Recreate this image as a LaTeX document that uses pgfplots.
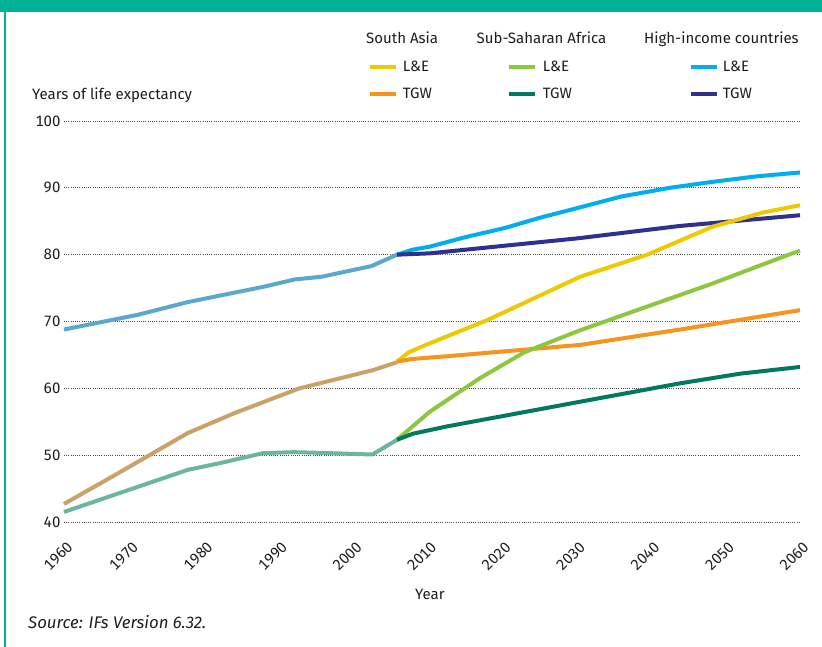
\documentclass[border=0pt]{standalone}
\usepackage{pgfplots}
\pgfplotsset{compat=1.18}
\usepackage{fontspec}
\setmainfont{Fira Sans}
\definecolor{frame}{RGB}{0,178,150}
\definecolor{hihist}{RGB}{92,168,204}
\definecolor{sahist}{RGB}{201,162,106}
\definecolor{ssahist}{RGB}{108,182,160}
\definecolor{sale}{RGB}{238,201,0}
\definecolor{satgw}{RGB}{247,148,29}
\definecolor{ssale}{RGB}{141,198,63}
\definecolor{ssatgw}{RGB}{0,122,94}
\definecolor{hile}{RGB}{0,174,239}
\definecolor{hitgw}{RGB}{46,48,146}
\definecolor{txt}{RGB}{30,30,30}
\begin{document}
\begin{tikzpicture}
\useasboundingbox (0pt,0pt) rectangle (822pt,-647pt);
\fill[white] (0pt,0pt) rectangle (822pt,-647pt);
\fill[frame] (0pt,0pt) rectangle (822pt,-12.3pt);
\fill[frame] (3.5pt,0pt) rectangle (6.3pt,-647pt);
\begin{axis}[
  at={(64pt,-522pt)}, anchor=south west,
  scale only axis, width=736pt, height=401pt,
  xmin=1961.2, xmax=2060, ymin=40, ymax=100,
  axis line style={draw=none},
  major tick length=0pt,
  xtick={1961.2,1970,1980,1990,2000,2010,2020,2030,2040,2050,2060},
  xticklabels={1960,1970,1980,1990,2000,2010,2020,2030,2040,2050,2060},
  ytick={40,50,60,70,80,90,100},
  ymajorgrids,
  grid style={color=black!70, line width=0.7pt, dash pattern=on 0.9pt off 1.3pt},
  /pgf/number format/assume math mode=true,
  tick label style={font=\fontsize{15}{17}\selectfont\addfontfeatures{Numbers=Monospaced}, text=txt},
  xticklabel style={xshift=8.5pt, yshift=-20pt, rotate=45, anchor=east},
  yticklabel style={anchor=east, xshift=0pt},
  clip=false,
  every axis plot/.append style={line width=4pt, line join=round, line cap=butt},
]
% historical
\addplot[hihist] coordinates {(1961.2,68.8) (1971.1,71.0) (1977.8,72.9) (1984,74.3) (1988,75.2) (1992.2,76.3) (1995.8,76.7) (2002.5,78.3) (2005.9,80.0)};
\addplot[sahist] coordinates {(1961.2,42.7) (1968,47.0) (1977.8,53.3) (1984.1,56.3) (1992.8,60.0) (2002.6,62.7) (2005.9,63.9)};
\addplot[ssahist] coordinates {(1961.2,41.5) (1977.8,47.8) (1982.1,48.8) (1987.9,50.3) (1992,50.45) (1995.5,50.35) (2002.6,50.1) (2005.9,52.3)};
% projections
\addplot[hile] coordinates {(2005.9,80.0) (2008,80.75) (2010.3,81.2) (2015,82.6) (2020.4,84.0) (2025,85.5) (2030.2,87.0) (2036,88.7) (2042.5,90.0) (2048.3,90.9) (2054,91.7) (2060,92.3)};
\addplot[hitgw] coordinates {(2005.9,80.0) (2010.3,80.2) (2020,81.3) (2030.2,82.45) (2043.9,84.3) (2060,85.9)};
\addplot[sale] coordinates {(2005.9,64.0) (2007.5,65.4) (2010,66.6) (2018,70.2) (2030.5,76.7) (2039.5,80.0) (2048.3,84.2) (2055,86.3) (2060,87.4)};
\addplot[satgw] coordinates {(2005.9,64.0) (2008,64.4) (2012.6,64.8) (2030.5,66.5) (2043.9,68.8) (2060,71.7)};
\addplot[ssale] coordinates {(2005.9,52.3) (2010.3,56.5) (2017,61.5) (2023,65.4) (2030.5,68.7) (2048.3,75.7) (2058,79.8) (2060,80.6)};
\addplot[ssatgw] coordinates {(2005.9,52.3) (2008,53.2) (2012.6,54.3) (2030.5,58.0) (2043.9,60.75) (2052,62.2) (2060,63.2)};
\end{axis}
\begin{scope}[every node/.style={font=\fontsize{15}{17}\selectfont, text=txt, inner sep=0pt}]
\node[anchor=base west] at (32pt,-100pt) {Years of life expectancy};
\node[anchor=base west] at (415pt,-599pt) {Year};
\node[anchor=base west, font=\fontsize{16.8}{19}\selectfont\itshape] at (28pt,-628pt) {Source: IFs Version 6.32.};
\node[anchor=base west] at (366pt,-44pt) {South Asia};
\node[anchor=base west] at (476.5pt,-44pt) {Sub-Saharan Africa};
\node[anchor=base west] at (644pt,-44pt) {High-income countries};
\node[anchor=base west] at (402.7pt,-71.7pt) {L\&E};
\node[anchor=base west] at (402.7pt,-99pt) {TGW};
\node[anchor=base west] at (542.7pt,-71.7pt) {L\&E};
\node[anchor=base west] at (542.7pt,-99pt) {TGW};
\node[anchor=base west] at (722.7pt,-71.7pt) {L\&E};
\node[anchor=base west] at (722.7pt,-99pt) {TGW};
\end{scope}
\begin{scope}[line width=3.8pt]
\draw[sale] (370pt,-67.3pt) -- (396pt,-67.3pt);
\draw[satgw] (370pt,-94.3pt) -- (396pt,-94.3pt);
\draw[ssale] (508.5pt,-67.3pt) -- (535pt,-67.3pt);
\draw[ssatgw] (508.5pt,-94.3pt) -- (535pt,-94.3pt);
\draw[hile] (690.7pt,-67.3pt) -- (716.7pt,-67.3pt);
\draw[hitgw] (690.7pt,-94.3pt) -- (716.7pt,-94.3pt);
\end{scope}
\end{tikzpicture}
\end{document}
